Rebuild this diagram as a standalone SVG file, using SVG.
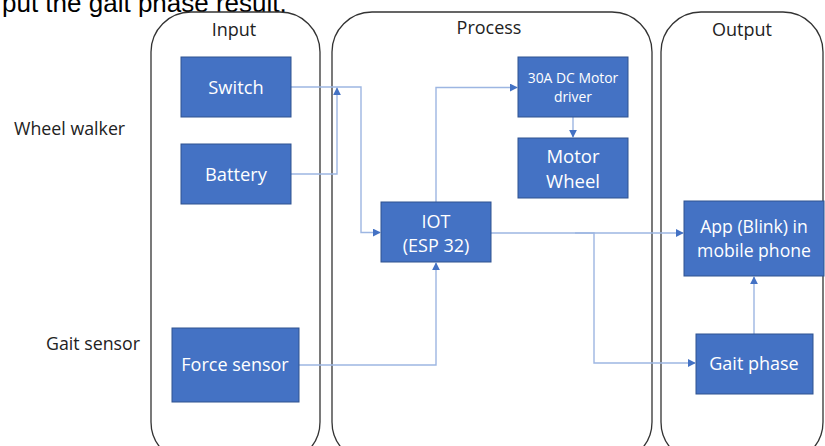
<svg xmlns="http://www.w3.org/2000/svg" width="825" height="446" viewBox="0 0 825 446">
<defs>
<marker id="ah" viewBox="0 0 10 10" refX="9" refY="5" markerWidth="8" markerHeight="8" markerUnits="userSpaceOnUse" orient="auto"><path d="M0,0 L10,5 L0,10 z" fill="#4472C4"/></marker>
<style>
.col{fill:none;stroke:#333;stroke-width:1.3}
.hd{font-family:"Open Sans","Liberation Sans",sans-serif;font-size:18px;fill:#222;text-anchor:middle}
.side{font-family:"Open Sans","Liberation Sans",sans-serif;font-size:17.8px;fill:#222}
.box{fill:#4472C4;stroke:#2F528F;stroke-width:1}
.t{font-family:"Open Sans","Liberation Sans",sans-serif;font-size:18.3px;fill:#fff;text-anchor:middle}
.c{fill:none;stroke:#9DB6E2;stroke-width:1.4}
</style>
</defs>
<rect width="825" height="446" fill="#fff"/>
<text x="2" y="12" font-family="Liberation Sans,Arial,sans-serif" font-size="26" fill="#000">put the gait phase result.</text>
<g id="col-input"><rect class="col" x="151" y="12" width="169" height="450" rx="40"/><text class="hd" x="234" y="36">Input</text></g>
<g id="col-process"><rect class="col" x="332" y="12" width="320" height="450" rx="40"/><text class="hd" x="489" y="34">Process</text></g>
<g id="col-output"><rect class="col" x="661" y="12" width="162" height="450" rx="40"/><text class="hd" x="742" y="36">Output</text></g>
<text class="side" x="14" y="135">Wheel walker</text>
<text class="side" x="46" y="350">Gait sensor</text>
<g id="connectors">
<path class="c" d="M291,87 H361 V232.5 H380" marker-end="url(#ah)"/>
<path class="c" d="M291,174 H337 V88" marker-end="url(#ah)"/>
<path class="c" d="M436,202 V87.5 H517" marker-end="url(#ah)"/>
<path class="c" d="M573,117 V137" marker-end="url(#ah)"/>
<path class="c" d="M491,233 H683" marker-end="url(#ah)"/>
<path class="c" d="M575,233 H594 V363 H695" marker-end="url(#ah)"/>
<path class="c" d="M754,334 V277" marker-end="url(#ah)"/>
<path class="c" d="M299,365 H436 V263" marker-end="url(#ah)"/>
</g>
<g id="switch"><rect class="box" x="181" y="57" width="110" height="60"/><text class="t" x="236" y="93.5">Switch</text></g>
<g id="battery"><rect class="box" x="181" y="144" width="110" height="60"/><text class="t" x="236" y="180.5">Battery</text></g>
<g id="iot"><rect class="box" x="381" y="202" width="110" height="60"/><text class="t" x="436" y="227.5" style="font-size:18px">IOT</text><text class="t" x="436" y="252" style="font-size:18px">(ESP 32)</text></g>
<g id="driver"><rect class="box" x="518" y="57" width="110" height="60"/><text class="t" x="573" y="83" style="font-size:13.9px">30A DC Motor</text><text class="t" x="573" y="102" style="font-size:13.9px">driver</text></g>
<g id="motor"><rect class="box" x="518" y="138" width="110" height="60"/><text class="t" x="573" y="162.5" style="font-size:18.5px">Motor</text><text class="t" x="573" y="187.5" style="font-size:18.5px">Wheel</text></g>
<g id="app"><rect class="box" x="684" y="201" width="140" height="75"/><text class="t" x="754" y="233" style="font-size:17.6px">App (Blink) in</text><text class="t" x="754" y="257" style="font-size:17.6px">mobile phone</text></g>
<g id="gait"><rect class="box" x="696" y="334" width="117" height="60"/><text class="t" x="754" y="370" style="font-size:18px">Gait phase</text></g>
<g id="force"><rect class="box" x="172" y="328" width="127" height="74"/><text class="t" x="235" y="371" style="font-size:18px">Force sensor</text></g>
</svg>
